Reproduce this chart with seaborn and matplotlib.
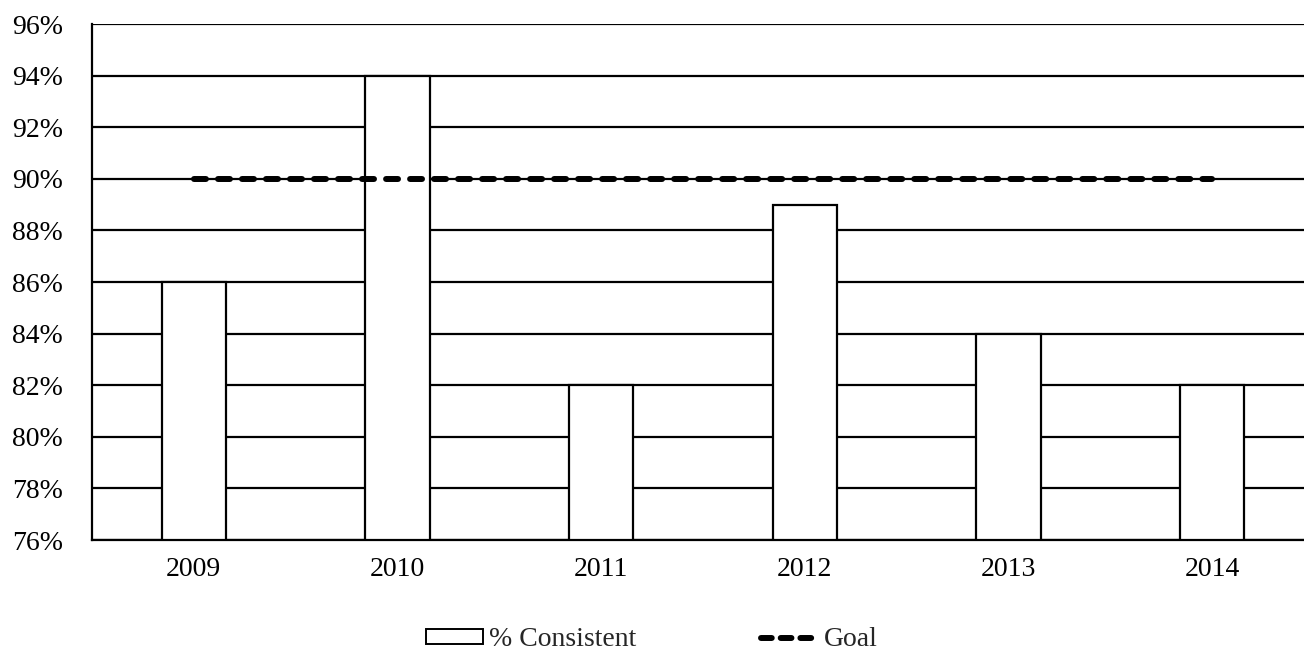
import matplotlib
matplotlib.use("Agg")
import matplotlib.pyplot as plt
import seaborn as sns
import pandas as pd
from matplotlib.patches import Patch
from matplotlib.lines import Line2D

years = ["2009", "2010", "2011", "2012", "2013", "2014"]
consistent = [86, 94, 82, 89, 84, 82]
goal = [90, 90, 90, 90, 90, 90]
y_ticks = [76, 78, 80, 82, 84, 86, 88, 90, 92, 94, 96]

sns.set_theme(style="white")
plt.rcParams['font.family'] = ['Liberation Serif', 'DejaVu Serif']

df = pd.DataFrame({"year": years, "consistent": consistent, "goal": goal})

fig = plt.figure(figsize=(13.04, 6.51), dpi=100)
ax = fig.add_axes([92/1304, (651-540)/651, 1222/1304, 516/651])

for t in y_ticks:
    ax.axhline(t, color="black", lw=1.6, zorder=0)

sns.barplot(data=df, x="year", y="consistent", color="white", edgecolor="black",
            linewidth=1.6, width=0.315, ax=ax, zorder=2, saturation=1)

ax.plot(range(len(years)), goal, color="black", lw=4.3, dashes=(2.0, 2.02),
        dash_capstyle="round", zorder=3)

ax.set_xlim(-0.5, 5.5)
ax.set_ylim(76, 96)
ax.set_yticks(y_ticks)
ax.set_yticklabels([f"{v}%" for v in y_ticks])
ax.set_xlabel("")
ax.set_ylabel("")
ax.tick_params(axis="both", length=0, labelsize=20, colors="black")
ax.tick_params(axis="y", pad=21)
ax.tick_params(axis="x", pad=12)
for s in ["top", "right"]:
    ax.spines[s].set_visible(False)
for s in ["left", "bottom"]:
    ax.spines[s].set_color("black")
    ax.spines[s].set_linewidth(1.6)

handles = [Patch(facecolor="white", edgecolor="black", linewidth=1.4, label="% Consistent"),
           Line2D([0], [0], color="black", lw=4.3, dashes=(1.8, 1.5), dash_capstyle="round", label="Goal")]
fig.legend(handles=handles, loc="center", bbox_to_anchor=(652/1304, 11/651), ncol=2,
           frameon=False, fontsize=20, handlelength=2.05, handleheight=0.42,
           columnspacing=4.5, handletextpad=0.22, borderpad=0, borderaxespad=0)

fig.savefig("out.png", dpi=100)
